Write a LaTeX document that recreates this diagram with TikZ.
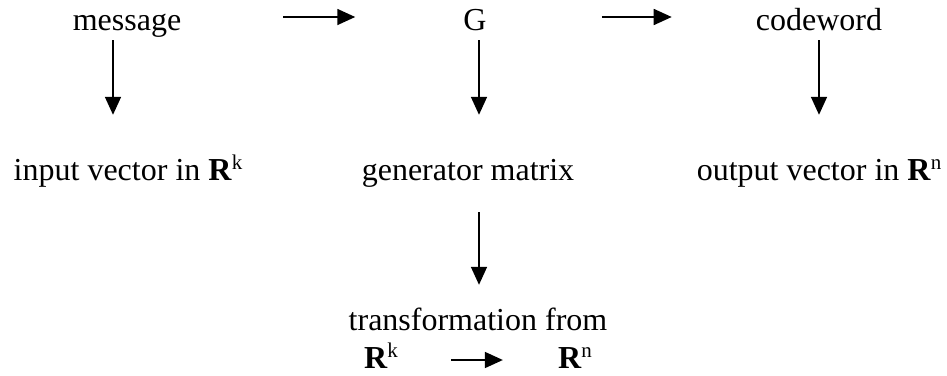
\documentclass[tikz,border=0pt]{standalone}
\usepackage{fontspec}
\setmainfont{Liberation Serif}
\usetikzlibrary{arrows.meta}
\newcommand\Rsp[1]{\textbf{R}\raisebox{0.33em}{\fontsize{21}{21}\selectfont #1}}
\tikzset{
  lbl/.style={inner sep=0pt, anchor=base, text height=22pt, text depth=7pt, font=\fontsize{32}{36}\selectfont},
  arr/.style={line width=1.7pt, -{Triangle[length=18pt,width=16pt]}}
}
\begin{document}
\begin{tikzpicture}[x=1pt,y=-1pt]
\useasboundingbox[fill=white] (0,0) rectangle (947,375);
\node[lbl] (msg) at (127,30) {message};
\node[lbl] (G) at (475,30) {G};
\node[lbl] (cw) at (819,30) {codeword};
\node[lbl] (inp) at (128,180) {input vector in \Rsp{k}};
\node[lbl] (gen) at (468,180) {generator matrix};
\node[lbl] (out) at (819,180) {output vector in \Rsp{n}};
\node[lbl] (trans) at (478,330) {transformation from};
\node[lbl] (rk) at (381,368) {\Rsp{k}};
\node[lbl] (rn) at (575,368) {\Rsp{n}};
% horizontal arrows
\draw[arr, shorten <=102pt, shorten >=108pt] ([yshift=13pt]msg.base east) -- ([yshift=13pt]G.base west);
\draw[arr, shorten <=115pt, shorten >=84pt] ([yshift=13pt]G.base east) -- ([yshift=13pt]cw.base west);
\draw[arr, shorten <=53pt, shorten >=55pt] ([yshift=8pt]rk.base east) -- ([yshift=8pt]rn.base west);
% vertical arrows
\draw[arr, shorten <=3pt, shorten >=43pt] ([xshift=-14pt]msg.south) -- ([xshift=-14pt]msg.south |- inp.north);
\draw[arr, shorten <=3pt, shorten >=43pt] ([xshift=4pt]G.south) -- ([xshift=4pt]G.south |- gen.north);
\draw[arr, shorten <=3pt, shorten >=43pt] (cw.south) -- (cw.south |- out.north);
\draw[arr, shorten <=25pt, shorten >=23pt] ([xshift=11pt]gen.south) -- ([xshift=11pt]gen.south |- trans.north);
\end{tikzpicture}
\end{document}
